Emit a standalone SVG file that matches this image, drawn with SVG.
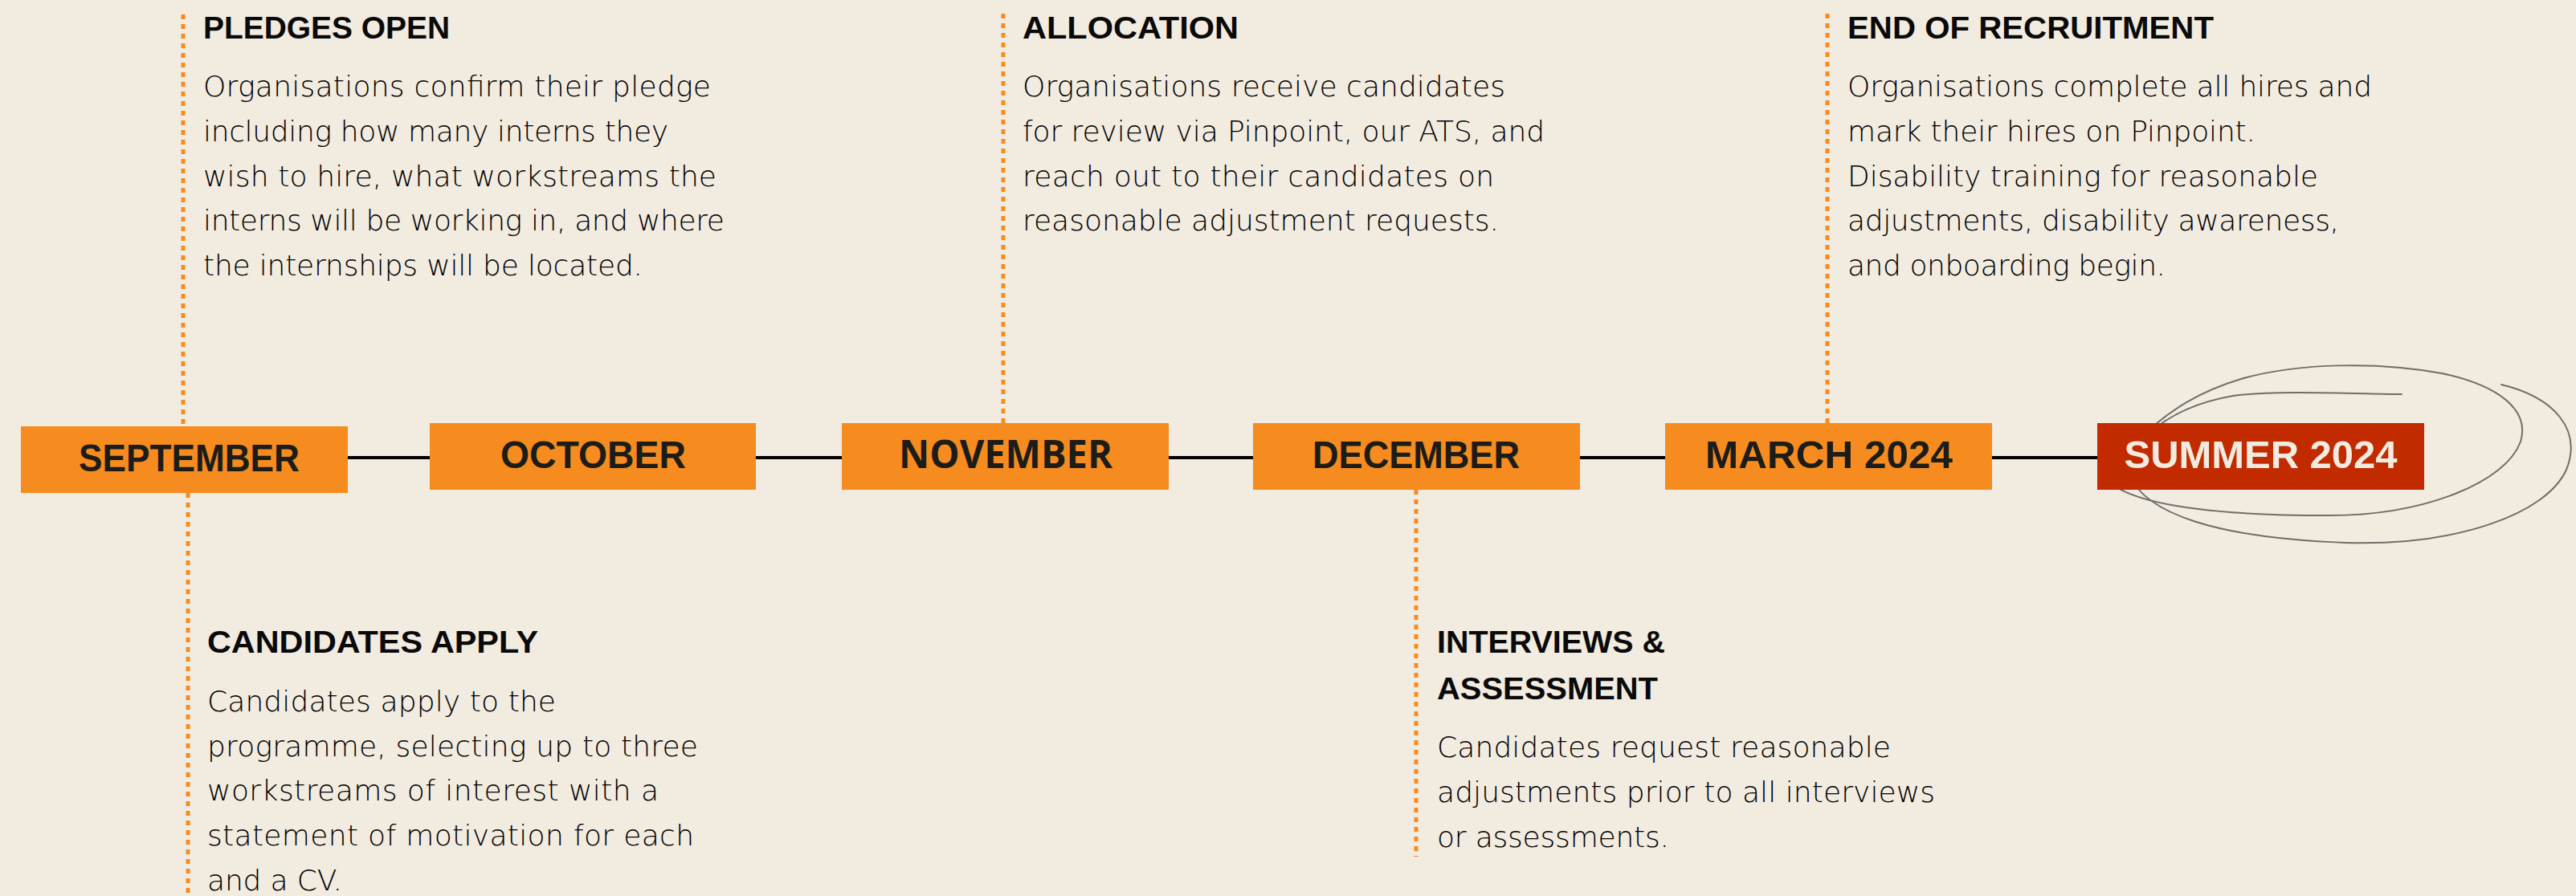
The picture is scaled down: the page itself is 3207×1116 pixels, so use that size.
<svg xmlns="http://www.w3.org/2000/svg" width="3207" height="1116" viewBox="0 0 3207 1116">
<style>
.bg{fill:#F2EBE0}
.box{fill:#F68B1F}
.boxr{fill:#C22B00}
.mon{font-family:"Liberation Sans",Arial,sans-serif;font-weight:bold;font-size:49px;fill:#1C1C18;text-anchor:middle}
.monw{font-family:"Open Sans","Noto Sans",sans-serif;font-weight:bold;font-size:48px;fill:#1C1C18;text-anchor:middle}
.ttl{font-family:"Liberation Sans",Arial,sans-serif;font-weight:bold;font-size:39px;fill:#0A0A0A}
.body{font-family:"DejaVu Sans","Liberation Sans",sans-serif;font-weight:300;font-size:36px;fill:#000}
.dot{stroke:#F68B1F;stroke-width:5;stroke-dasharray:6 6;fill:none}
.tl{stroke:#000;stroke-width:4;fill:none}
.pen{stroke:#6E6E6A;stroke-width:2;fill:none;stroke-linecap:round}
</style>
<rect class="bg" x="0" y="0" width="3207" height="1116"/>
<g id="connectors">
<line class="tl" x1="433" y1="570" x2="2611" y2="570"/>
<line class="dot" x1="228" y1="18" x2="228" y2="531"/>
<line class="dot" x1="1249" y1="17" x2="1249" y2="527"/>
<line class="dot" x1="2275" y1="17" x2="2275" y2="527"/>
<line class="dot" x1="234" y1="614" x2="234" y2="1116"/>
<line class="dot" x1="1763" y1="610" x2="1763" y2="1067"/>
</g>
<g id="scribble">
<path class="pen" d="M 2625 600 C 2660 630, 2760 642, 2900 642 C 3020 642, 3120 600, 3138 550 C 3150 510, 3110 480, 3040 465 C 2960 450, 2860 452, 2790 472 C 2740 487, 2700 510, 2660 550"/>
<path class="pen" d="M 2650 590 C 2670 640, 2760 670, 2920 676 C 3060 680, 3170 640, 3195 585 C 3215 535, 3180 495, 3114 479"/>
<path class="pen" d="M 2990 491 C 2920 490, 2830 486, 2780 493 C 2740 500, 2700 515, 2670 545"/>
</g>
<g id="september">
<rect class="box" x="26" y="531" width="407" height="83"/>
<text class="mon" x="235.5" y="587" textLength="275" lengthAdjust="spacingAndGlyphs">SEPTEMBER</text>
</g>
<g id="october">
<rect class="box" x="535" y="527" width="406" height="83"/>
<text class="mon" x="738.5" y="583" textLength="231" lengthAdjust="spacingAndGlyphs">OCTOBER</text>
</g>
<g id="november">
<rect class="box" x="1048" y="527" width="407" height="83"/>
<text class="monw" x="1252" y="583" textLength="266" lengthAdjust="spacingAndGlyphs">NOVEMBER</text>
</g>
<g id="december">
<rect class="box" x="1560" y="527" width="407" height="83"/>
<text class="mon" x="1763" y="583" textLength="258" lengthAdjust="spacingAndGlyphs">DECEMBER</text>
</g>
<g id="march2024">
<rect class="box" x="2073" y="527" width="407" height="83"/>
<text class="mon" x="2277" y="583" textLength="308" lengthAdjust="spacingAndGlyphs">MARCH 2024</text>
</g>
<g id="summer2024">
<rect class="boxr" x="2611" y="527" width="407" height="83"/>
<text class="mon" x="2814.5" y="583" textLength="340" lengthAdjust="spacingAndGlyphs" style="fill:#F2EBE0">SUMMER 2024</text>
</g>
<g id="pledges-open">
<text class="ttl" x="253" y="48" textLength="307" lengthAdjust="spacingAndGlyphs">PLEDGES OPEN</text>
<text class="body" x="253" y="120" textLength="632">Organisations confirm their pledge</text>
<text class="body" x="253" y="176" textLength="579">including how many interns they</text>
<text class="body" x="253" y="232" textLength="639">wish to hire, what workstreams the</text>
<text class="body" x="253" y="287" textLength="649">interns will be working in, and where</text>
<text class="body" x="253" y="343" textLength="547">the internships will be located.</text>
</g>
<g id="allocation">
<text class="ttl" x="1273" y="48" textLength="269" lengthAdjust="spacingAndGlyphs">ALLOCATION</text>
<text class="body" x="1273" y="120" textLength="601">Organisations receive candidates</text>
<text class="body" x="1273" y="176" textLength="650">for review via Pinpoint, our ATS, and</text>
<text class="body" x="1273" y="232" textLength="587">reach out to their candidates on</text>
<text class="body" x="1273" y="287" textLength="593">reasonable adjustment requests.</text>
</g>
<g id="end-of-recruitment">
<text class="ttl" x="2300" y="48" textLength="456" lengthAdjust="spacingAndGlyphs">END OF RECRUITMENT</text>
<text class="body" x="2300" y="120" textLength="653">Organisations complete all hires and</text>
<text class="body" x="2300" y="176" textLength="508">mark their hires on Pinpoint.</text>
<text class="body" x="2300" y="232" textLength="586">Disability training for reasonable</text>
<text class="body" x="2300" y="287" textLength="612">adjustments, disability awareness,</text>
<text class="body" x="2300" y="343" textLength="396">and onboarding begin.</text>
</g>
<g id="candidates-apply">
<text class="ttl" x="258" y="813" textLength="412" lengthAdjust="spacingAndGlyphs">CANDIDATES APPLY</text>
<text class="body" x="258" y="886" textLength="434">Candidates apply to the</text>
<text class="body" x="258" y="942" textLength="611">programme, selecting up to three</text>
<text class="body" x="258" y="997" textLength="562">workstreams of interest with a</text>
<text class="body" x="258" y="1053" textLength="606">statement of motivation for each</text>
<text class="body" x="258" y="1109" textLength="168">and a CV.</text>
</g>
<g id="interviews-assessment">
<text class="ttl" x="1789" y="813" textLength="284" lengthAdjust="spacingAndGlyphs">INTERVIEWS &amp;</text>
<text class="ttl" x="1789" y="871" textLength="275" lengthAdjust="spacingAndGlyphs">ASSESSMENT</text>
<text class="body" x="1789" y="943" textLength="565">Candidates request reasonable</text>
<text class="body" x="1789" y="999" textLength="620">adjustments prior to all interviews</text>
<text class="body" x="1789" y="1055" textLength="289">or assessments.</text>
</g>
</svg>
